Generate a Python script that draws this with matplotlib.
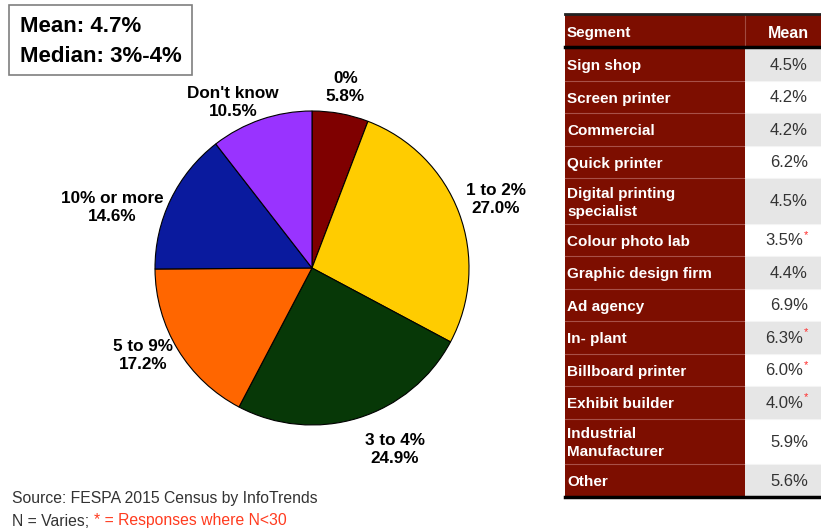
import numpy as np
import matplotlib
matplotlib.use('Agg')
import matplotlib.pyplot as plt
from matplotlib.patches import Rectangle

plt.rcParams['font.family'] = ['Liberation Sans', 'DejaVu Sans']

# данные круговой диаграммы
pie_labels = ["0%", "1 to 2%", "3 to 4%", "5 to 9%", "10% or more", "Don't know"]
pie_values = [5.8, 27.0, 24.9, 17.2, 14.6, 10.5]
pie_colors = ['#7F0000', '#FFCC00', '#073807', '#FF6600', '#0A1A9E', '#9933FF']

# данные таблицы
segments = ["Sign shop", "Screen printer", "Commercial", "Quick printer",
            "Digital printing\nspecialist", "Colour photo lab", "Graphic design firm",
            "Ad agency", "In- plant", "Billboard printer", "Exhibit builder",
            "Industrial\nManufacturer", "Other"]
means = [4.5, 4.2, 4.2, 6.2, 4.5, 3.5, 4.4, 6.9, 6.3, 6.0, 4.0, 5.9, 5.6]
small_n = [False, False, False, False, False, True, False, False, True, True, True, False, False]

mean_text = "Mean: 4.7%"
median_text = "Median: 3%-4%"

W, H = 821, 531
fig = plt.figure(figsize=(W / 100, H / 100), dpi=100)

# фоновая ось в пикселях
bg = fig.add_axes([0, 0, 1, 1])
bg.set_xlim(0, W)
bg.set_ylim(H, 0)
bg.axis('off')

# ---- круговая диаграмма ----
cx, cy, r = 312, 268, 157
pax = fig.add_axes([(cx - r) / W, (H - cy - r) / H, 2 * r / W, 2 * r / H])
wedges, _ = pax.pie(pie_values, colors=pie_colors, startangle=90, counterclock=False,
                    wedgeprops=dict(edgecolor='black', linewidth=0.8))
pax.set_xlim(-1, 1)
pax.set_ylim(-1, 1)

label_dist = [1.17, 1.25, 1.27, 1.21, 1.33, 1.17]
label_shift = [0, 0, 7.4, -4, 9, 6.5]  # поправка угла, градусы
for w, lab, val, d, s in zip(wedges, pie_labels, pie_values, label_dist, label_shift):
    ang = np.radians((w.theta1 + w.theta2) / 2 + s)
    pax.text(d * np.cos(ang), d * np.sin(ang), lab + "\n" + ('%.1f%%' % val),
             ha='center', va='center', fontsize=12.3, fontweight='bold',
             linespacing=1.25, color='black')

# ---- рамка со средним ----
bg.add_patch(Rectangle((9, 5), 183, 70, facecolor='white', edgecolor='#7F7F7F', lw=1.2))
bg.text(20, 26, mean_text, fontsize=16, fontweight='bold', va='center')
bg.text(20, 56, median_text, fontsize=16, fontweight='bold', va='center')

# ---- таблица ----
red = '#7D0E00'
x0, xm, x1 = 565, 745, 821
y = 14
hh = 33
bg.add_patch(Rectangle((x0, y), x1 - x0, hh, facecolor=red, edgecolor='none'))
bg.plot([xm, xm], [y, y + hh], color='#A04A40', lw=0.8)
bg.text(x0 + 2, y + hh / 2 + 2, "Segment", color='white', fontsize=11, fontweight='bold', va='center')
bg.text((xm + x1) / 2 + 5, y + hh / 2 + 3, "Mean", color='white', fontsize=11.5, fontweight='bold',
        va='center', ha='center')
bg.plot([x0, x1], [y, y], color='#222222', lw=2)
y += hh
bg.plot([x0, x1], [y, y], color='black', lw=2.5)
y += 1
for i, (seg, m, star) in enumerate(zip(segments, means, small_n)):
    nl = seg.count("\n") + 1
    rh = 32.5 if nl == 1 else 45.5
    bg.add_patch(Rectangle((x0, y), xm - x0, rh, facecolor=red, edgecolor='none'))
    bg.add_patch(Rectangle((xm, y), x1 - xm, rh,
                           facecolor='#E6E6E6' if i % 2 == 0 else 'white', edgecolor='none'))
    if i > 0:
        bg.plot([x0, xm], [y, y], color='#A85048', lw=0.8)
        bg.plot([xm, x1], [y, y], color='#F4F4F4', lw=0.8)
    bg.text(x0 + 2, y + rh / 2 + 2, seg, color='white', fontsize=11, fontweight='bold',
            va='center', linespacing=1.35)
    vx = 803 if star else 808
    bg.text(vx, y + rh / 2 + 1, '%.1f%%' % m, color='#333333', fontsize=12,
            va='center', ha='right')
    if star:
        bg.text(vx + 0.5, y + rh / 2 - 5, '*', color='#FF2A2A', fontsize=8, va='center', ha='left')
    y += rh
bg.plot([x0, x1], [y, y], color='black', lw=2.5)

# ---- источник ----
bg.text(12, 499, "Source: FESPA 2015 Census by InfoTrends", fontsize=11.3, color='#333333',
        va='center')
t1 = bg.text(12, 521, "N = Varies; ", fontsize=11.3, color='#333333', va='center')
fig.canvas.draw()
bb = t1.get_window_extent()
bg.text(12 + bb.width, 521, "* = Responses where N<30", fontsize=11.3, color='#FF3B1F',
        va='center')

fig.savefig('out.png', dpi=100)
